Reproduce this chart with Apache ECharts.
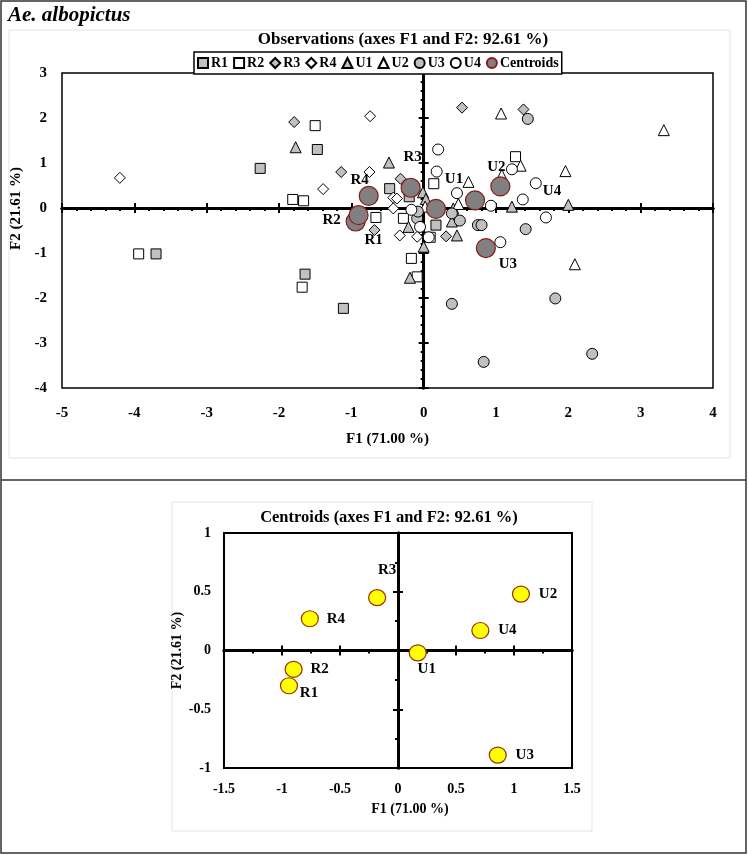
<!DOCTYPE html>
<html><head><meta charset="utf-8">
<script src="https://cdn.jsdelivr.net/npm/echarts/dist/echarts.min.js"></script>
<style>html,body{margin:0;padding:0;background:#fff}#c{width:748px;height:855px}</style>
</head><body><div id="c"></div>
<script>
// ---- data ----
const seriesNames = ['R1','R2','R3','R4','U1','U2','U3','U4'];
const R1 = [[-1.47,1.30],[-2.26,0.88],[-3.70,-1.02],[-1.64,-1.47],[-1.11,-2.23],[-0.47,0.43],[-0.20,0.25],[0.17,-0.38]];
const R2 = [[-1.50,1.83],[-1.81,0.19],[-1.66,0.16],[-3.94,-1.02],[-1.68,-1.76],[1.27,1.14],[0.14,0.54],[-0.66,-0.21],[-0.17,-1.12],[-0.09,-1.53],[0.09,-0.65],[-0.28,-0.23]];
const R3 = [[-1.79,1.91],[-1.14,0.80],[0.53,2.23],[1.38,2.19],[-0.32,0.65],[-0.68,-0.49],[0.31,-0.63]];
const R4 = [[-4.20,0.67],[-0.74,2.04],[-0.75,0.80],[-1.39,0.42],[-0.42,0.23],[-0.37,0.21],[-0.42,-0.01],[-0.33,-0.61],[-0.09,-0.64]];
const U1 = [[-1.77,1.35],[-0.48,1.01],[-0.01,0.35],[1.22,0.03],[2.00,0.07],[0.39,-0.30],[0.46,-0.61],[0.00,-0.86],[-0.19,-1.55],[-0.21,-0.42],[0.41,-0.01],[0.03,0.20]];
const U2 = [[1.07,2.10],[3.32,1.73],[1.34,0.94],[1.96,0.82],[1.08,0.73],[0.62,0.58],[0.48,0.09],[2.09,-1.25],[0.02,0.03]];
const U3 = [[1.44,1.98],[1.41,-0.47],[0.75,-0.38],[0.80,-0.38],[0.39,-2.13],[1.82,-2.01],[0.83,-3.42],[2.33,-3.24],[0.39,-0.12],[0.50,-0.28],[-0.09,-0.23],[-0.08,-0.08]];
const U4 = [[0.20,1.30],[0.18,0.81],[1.22,0.86],[1.55,0.55],[0.46,0.33],[1.37,0.19],[0.93,0.05],[1.69,-0.21],[1.06,-0.76],[-0.17,-0.04],[-0.05,-0.42],[0.07,-0.65]];
const observations = [R1, R2, R3, R4, U1, U2, U3, U4];

const centroidNames = ['R1','R2','R3','R4','U1','U2','U3','U4'];
const centroidX = [-0.94,-0.90,-0.18,-0.76,0.17,1.06,0.86,0.71];
const centroidY = [-0.30,-0.16,0.45,0.27,-0.02,0.48,-0.89,0.17];

const topTitle = 'Observations (axes F1 and F2: 92.61 %)';
const bottomTitle = 'Centroids (axes F1 and F2: 92.61 %)';
const xName = 'F1 (71.00 %)';
const yName = 'F2 (21.61 %)';
const speciesName = 'Ae. albopictus';

// ---- styles ----
const FONT = '"Liberation Serif", "DejaVu Serif", serif';
const GREY = '#c0c0c0';
const symbolStyle = {
  R1: {symbol: 'rect', color: GREY, size: 10},
  R2: {symbol: 'rect', color: '#ffffff', size: 10},
  R3: {symbol: 'diamond', color: GREY, size: 11},
  R4: {symbol: 'diamond', color: '#ffffff', size: 11},
  U1: {symbol: 'triangle', color: GREY, size: 11},
  U2: {symbol: 'triangle', color: '#ffffff', size: 11},
  U3: {symbol: 'circle', color: GREY, size: 11},
  U4: {symbol: 'circle', color: '#ffffff', size: 11}
};
// label offsets (pixels) for centroid labels
const topLabelOffset = {R1:[18,19], R2:[-27,5], R3:[2,-31], R4:[-9,-16], U1:[18,-30], U2:[-4,-19], U3:[22,16], U4:[77,-9]};
const botLabelOffset = {R1:[20,7], R2:[26,0], R3:[10,-28], R4:[26,0], U1:[9,16], U2:[27,0], U3:[27,0], U4:[27,0]};

const txt = (size, extra) => Object.assign({color: '#000', fontFamily: FONT, fontWeight: 'bold', fontSize: size}, extra || {});

function labelAxis(dim, grid, min, max, interval, opts) {
  return Object.assign({
    gridIndex: grid, type: 'value', min: min, max: max, interval: interval,
    position: dim === 'x' ? 'bottom' : 'left',
    axisLine: {show: false, onZero: false},
    axisTick: {show: false},
    splitLine: {show: false},
    axisLabel: txt(15, {margin: 14})
  }, opts);
}
function crossAxis(dim, grid, min, max, interval, pos, onZeroIdx, minor, tickLen) {
  return {
    gridIndex: grid, type: 'value', min: min, max: max, interval: interval,
    position: pos,
    axisLine: {show: true, onZero: true, onZeroAxisIndex: onZeroIdx, lineStyle: {color: '#000', width: 3}},
    axisTick: {show: true, length: tickLen, lineStyle: {color: '#000', width: 2}},
    minorTick: {show: minor.show, splitNumber: minor.split, length: 3, lineStyle: {color: '#000', width: 2}},
    splitLine: {show: false},
    axisLabel: {show: false}
  };
}

const xAxes = [
  labelAxis('x', 0, -5, 4, 1, {axisLabel: txt(15, {margin: 18}), name: xName, nameLocation: 'middle', nameGap: 44, nameTextStyle: txt(15)}),
  crossAxis('x', 0, -5, 4, 1, 'bottom', 0, {show: true, split: 5}, 5),
  crossAxis('x', 0, -5, 4, 1, 'top', 0, {show: false, split: 5}, 5),
  labelAxis('x', 1, -1.5, 1.5, 0.5, {axisLabel: txt(14, {margin: 14}), name: xName, nameLocation: 'middle', nameGap: 34, nameTextStyle: txt(14, {padding: [0, 0, 0, 24]})}),
  crossAxis('x', 1, -1.5, 1.5, 0.5, 'bottom', 3, {show: true, split: 2}, 5),
  crossAxis('x', 1, -1.5, 1.5, 0.5, 'top', 3, {show: false, split: 2}, 5)
];
const yAxes = [
  labelAxis('y', 0, -4, 3, 1, {axisLabel: txt(15, {margin: 15}), name: yName, nameLocation: 'middle', nameGap: 32, nameTextStyle: txt(15, {padding: [0, 0, 0, 44]})}),
  crossAxis('y', 0, -4, 3, 1, 'left', 0, {show: true, split: 5}, 5),
  crossAxis('y', 0, -4, 3, 1, 'right', 0, {show: false, split: 5}, 5),
  labelAxis('y', 1, -1, 1, 0.5, {axisLabel: txt(14, {margin: 13}), name: yName, nameLocation: 'middle', nameGap: 40, nameTextStyle: txt(14)}),
  crossAxis('y', 1, -1, 1, 0.5, 'left', 3, {show: true, split: 2}, 5),
  crossAxis('y', 1, -1, 1, 0.5, 'right', 3, {show: false, split: 2}, 5)
];

const series = seriesNames.map((n, i) => ({
  name: n, type: 'scatter', xAxisIndex: 0, yAxisIndex: 0,
  symbol: symbolStyle[n].symbol, symbolSize: symbolStyle[n].size,
  itemStyle: {color: symbolStyle[n].color, borderColor: '#000', borderWidth: 1, opacity: 1},
  emphasis: {disabled: true},
  data: observations[i]
}));
series.push({
  name: 'Centroids', type: 'scatter', xAxisIndex: 0, yAxisIndex: 0, z: 5,
  symbol: 'circle', symbolSize: 19,
  itemStyle: {color: '#808080', borderColor: '#8b1a1a', borderWidth: 1.2, opacity: 1},
  emphasis: {disabled: true},
  label: {show: true, position: 'inside', formatter: '{b}', ...txt(15)},
  data: centroidNames.map((n, i) => ({name: n, value: [centroidX[i], centroidY[i]], label: {offset: topLabelOffset[n]}}))
});
series.push({
  name: 'CentroidsOnly', type: 'scatter', xAxisIndex: 3, yAxisIndex: 3, z: 5,
  symbol: 'circle', symbolSize: [17, 16],
  itemStyle: {color: '#ffff00', borderColor: '#993300', borderWidth: 1.2, opacity: 1},
  emphasis: {disabled: true},
  label: {show: true, position: 'inside', formatter: '{b}', ...txt(15)},
  data: centroidNames.map((n, i) => ({name: n, value: [centroidX[i], centroidY[i]], label: {offset: botLabelOffset[n]}}))
});

const chart = echarts.init(document.getElementById('c'), null, {renderer: 'canvas'});
chart.setOption({
  animation: false,
  backgroundColor: '#fff',
  title: [
    {text: topTitle, left: 403, top: 31, padding: 0, textAlign: 'center', textStyle: txt(17)},
    {text: bottomTitle, left: 389, top: 509, padding: 0, textAlign: 'center', textStyle: txt(16.5)}
  ],
  legend: {
    show: true, top: 52, left: 194, orient: 'horizontal',
    data: seriesNames.concat(['Centroids']),
    backgroundColor: '#fff', borderColor: '#000', borderWidth: 1.5,
    padding: [4, 3], itemGap: 5, itemWidth: 10, itemHeight: 10,
    selectedMode: false,
    textStyle: txt(14, {padding: [0, 0, 0, -2]})
  },
  grid: [
    {left: 62, top: 73, width: 651, height: 315, outerBoundsMode: 'none', containLabel: false, show: true, borderColor: '#000', borderWidth: 1.5, backgroundColor: 'transparent'},
    {left: 224, top: 533, width: 348, height: 235, outerBoundsMode: 'none', containLabel: false, show: true, borderColor: '#000', borderWidth: 2, backgroundColor: 'transparent'}
  ],
  xAxis: xAxes,
  yAxis: yAxes,
  series: series,
  graphic: [
    {type: 'rect', silent: true, z: -10, shape: {x: 1, y: 1, width: 745, height: 852}, style: {fill: null, stroke: '#333', lineWidth: 1.5}},
    {type: 'line', silent: true, z: -10, shape: {x1: 1, y1: 480, x2: 746, y2: 480}, style: {stroke: '#333', lineWidth: 1.5}},
    {type: 'rect', silent: true, z: -10, shape: {x: 9, y: 30, width: 721, height: 428}, style: {fill: null, stroke: '#e4e4e4', lineWidth: 1}},
    {type: 'rect', silent: true, z: -10, shape: {x: 172, y: 502, width: 420, height: 329}, style: {fill: null, stroke: '#e4e4e4', lineWidth: 1}},
    {type: 'text', silent: true, style: {x: 8, y: 16, text: speciesName, textVerticalAlign: 'middle', font: 'italic bold 21px ' + FONT, fill: '#000'}}
  ]
});
</script></body></html>
